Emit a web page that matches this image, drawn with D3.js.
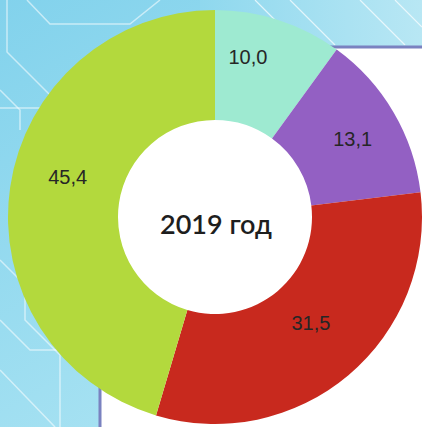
<!DOCTYPE html>
<html><head><meta charset="utf-8">
<script src="https://cdn.jsdelivr.net/npm/d3@7/dist/d3.min.js"></script>
<style>html,body{margin:0;padding:0;overflow:hidden;background:#fff}</style>
</head><body>
<svg id="c" width="422" height="427"></svg>
<script>
const categories = ["A", "B", "C", "D"];
const values = [10.0, 13.1, 31.5, 45.4];
const valueLabels = ["10,0", "13,1", "31,5", "45,4"];
const colors = ["#9eead1", "#9360c3", "#c8291e", "#b3d93d"];
const centerTitle = "2019 год";
// label nudges (layout)
const labelNudge = [[-15,-13],[4,0],[-4,-13],[6,-18]];

const W = 422, H = 427;
const svg = d3.select("#c");
const defs = svg.append("defs");
const g1 = defs.append("linearGradient").attr("id","bg").attr("x1","0").attr("y1","0").attr("x2","0.6").attr("y2","1");
g1.append("stop").attr("offset","0").attr("stop-color","#82d2ec");
g1.append("stop").attr("offset","1").attr("stop-color","#ace4f3");
const g2 = defs.append("linearGradient").attr("id","bgtop").attr("x1","0").attr("y1","0").attr("x2","1").attr("y2","0");
g2.append("stop").attr("offset","0").attr("stop-color","#8fd8ee");
g2.append("stop").attr("offset","1").attr("stop-color","#b8e7f4");

svg.append("rect").attr("width",W).attr("height",H).attr("fill","url(#bg)");
svg.append("rect").attr("x",200).attr("width",W-200).attr("height",50).attr("fill","url(#bgtop)");

// decorative circuit lines
const deco = [
  [[27,0],[50,24],[130,24],[160,0]],
  [[7,0],[7,52],[60,105],[60,140]],
  [[0,108],[40,108],[70,80]],
  [[0,90],[20,110],[20,130]],
  [[0,260],[25,285],[25,320],[60,355],[60,427]],
  [[0,370],[55,427]],
  [[0,320],[30,350],[80,350]]
];
svg.append("g").selectAll("path").data(deco).join("path")
  .attr("d", d3.line()).attr("fill","none")
  .attr("stroke","rgba(255,255,255,0.55)").attr("stroke-width",1.5);
// streaks top right
const streaks = [[[255,0],[300,45]],[[290,0],[335,45]],[[360,0],[405,45]],[[395,0],[422,27]]];
svg.append("g").selectAll("path").data(streaks).join("path")
  .attr("d", d3.line()).attr("fill","none")
  .attr("stroke","rgba(255,255,255,0.7)").attr("stroke-width",1.2);

// white panel
svg.append("rect").attr("x",100).attr("y",47).attr("width",400).attr("height",430).attr("rx",22)
  .attr("fill","#fff").attr("stroke","#7a82c0").attr("stroke-width",3);

const cx = 215, cy = 217, rOuter = 207, rInner = 97;
const pie = d3.pie().sort(null).value(d => d)(values);
const arc = d3.arc().innerRadius(rInner).outerRadius(rOuter);
const labelArc = d3.arc().innerRadius(155).outerRadius(155);
const g = svg.append("g").attr("transform",`translate(${cx},${cy})`);
g.selectAll("path.s").data(pie).join("path").attr("class","s")
  .attr("d", arc).attr("fill", (d,i) => colors[i]);
g.selectAll("text.l").data(pie).join("text").attr("class","l")
  .attr("transform", (d,i) => { const c = labelArc.centroid(d); return `translate(${c[0]+labelNudge[i][0]},${c[1]+labelNudge[i][1]})`; })
  .attr("text-anchor","middle").attr("dy","0.36em")
  .attr("font-family","'Liberation Sans', Arial, sans-serif").attr("font-size",20)
  .attr("fill","#262626").text((d,i) => valueLabels[i]);
g.append("text").attr("x",1).attr("y",17).attr("text-anchor","middle")
  .attr("font-family","Lato, sans-serif").attr("font-weight",600).attr("font-size",27)
  .attr("fill","#1e1e1e").text(centerTitle);
</script>
</body></html>
